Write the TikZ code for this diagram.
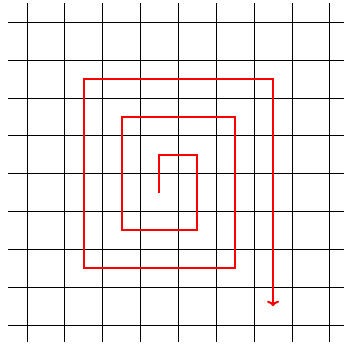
\documentclass[tikz,border=0pt]{standalone}
\usetikzlibrary{arrows.meta}
\begin{document}
\begin{tikzpicture}[x=1cm,y=1cm,
  gridline/.style={line width=0.6pt,black},
  spiral/.style={line width=1.5pt,red,line join=miter,-{To[length=4pt,width=9pt]}}]
\useasboundingbox (-0.713,-0.58) rectangle (8.35,8.587);
\foreach \i in {0,...,8} {
  \draw[gridline] (\i,-0.45) -- (\i,8.5);
  \draw[gridline] (-0.5,\i) -- (8.4,\i);
}
\draw[spiral] (3.5,3.5) -- (3.5,4.5) -- (4.5,4.5) -- (4.5,2.5) -- (2.5,2.5)
  -- (2.5,5.5) -- (5.5,5.5) -- (5.5,1.5) -- (1.5,1.5) -- (1.5,6.5)
  -- (6.5,6.5) -- (6.5,0.5);
\end{tikzpicture}
\end{document}
